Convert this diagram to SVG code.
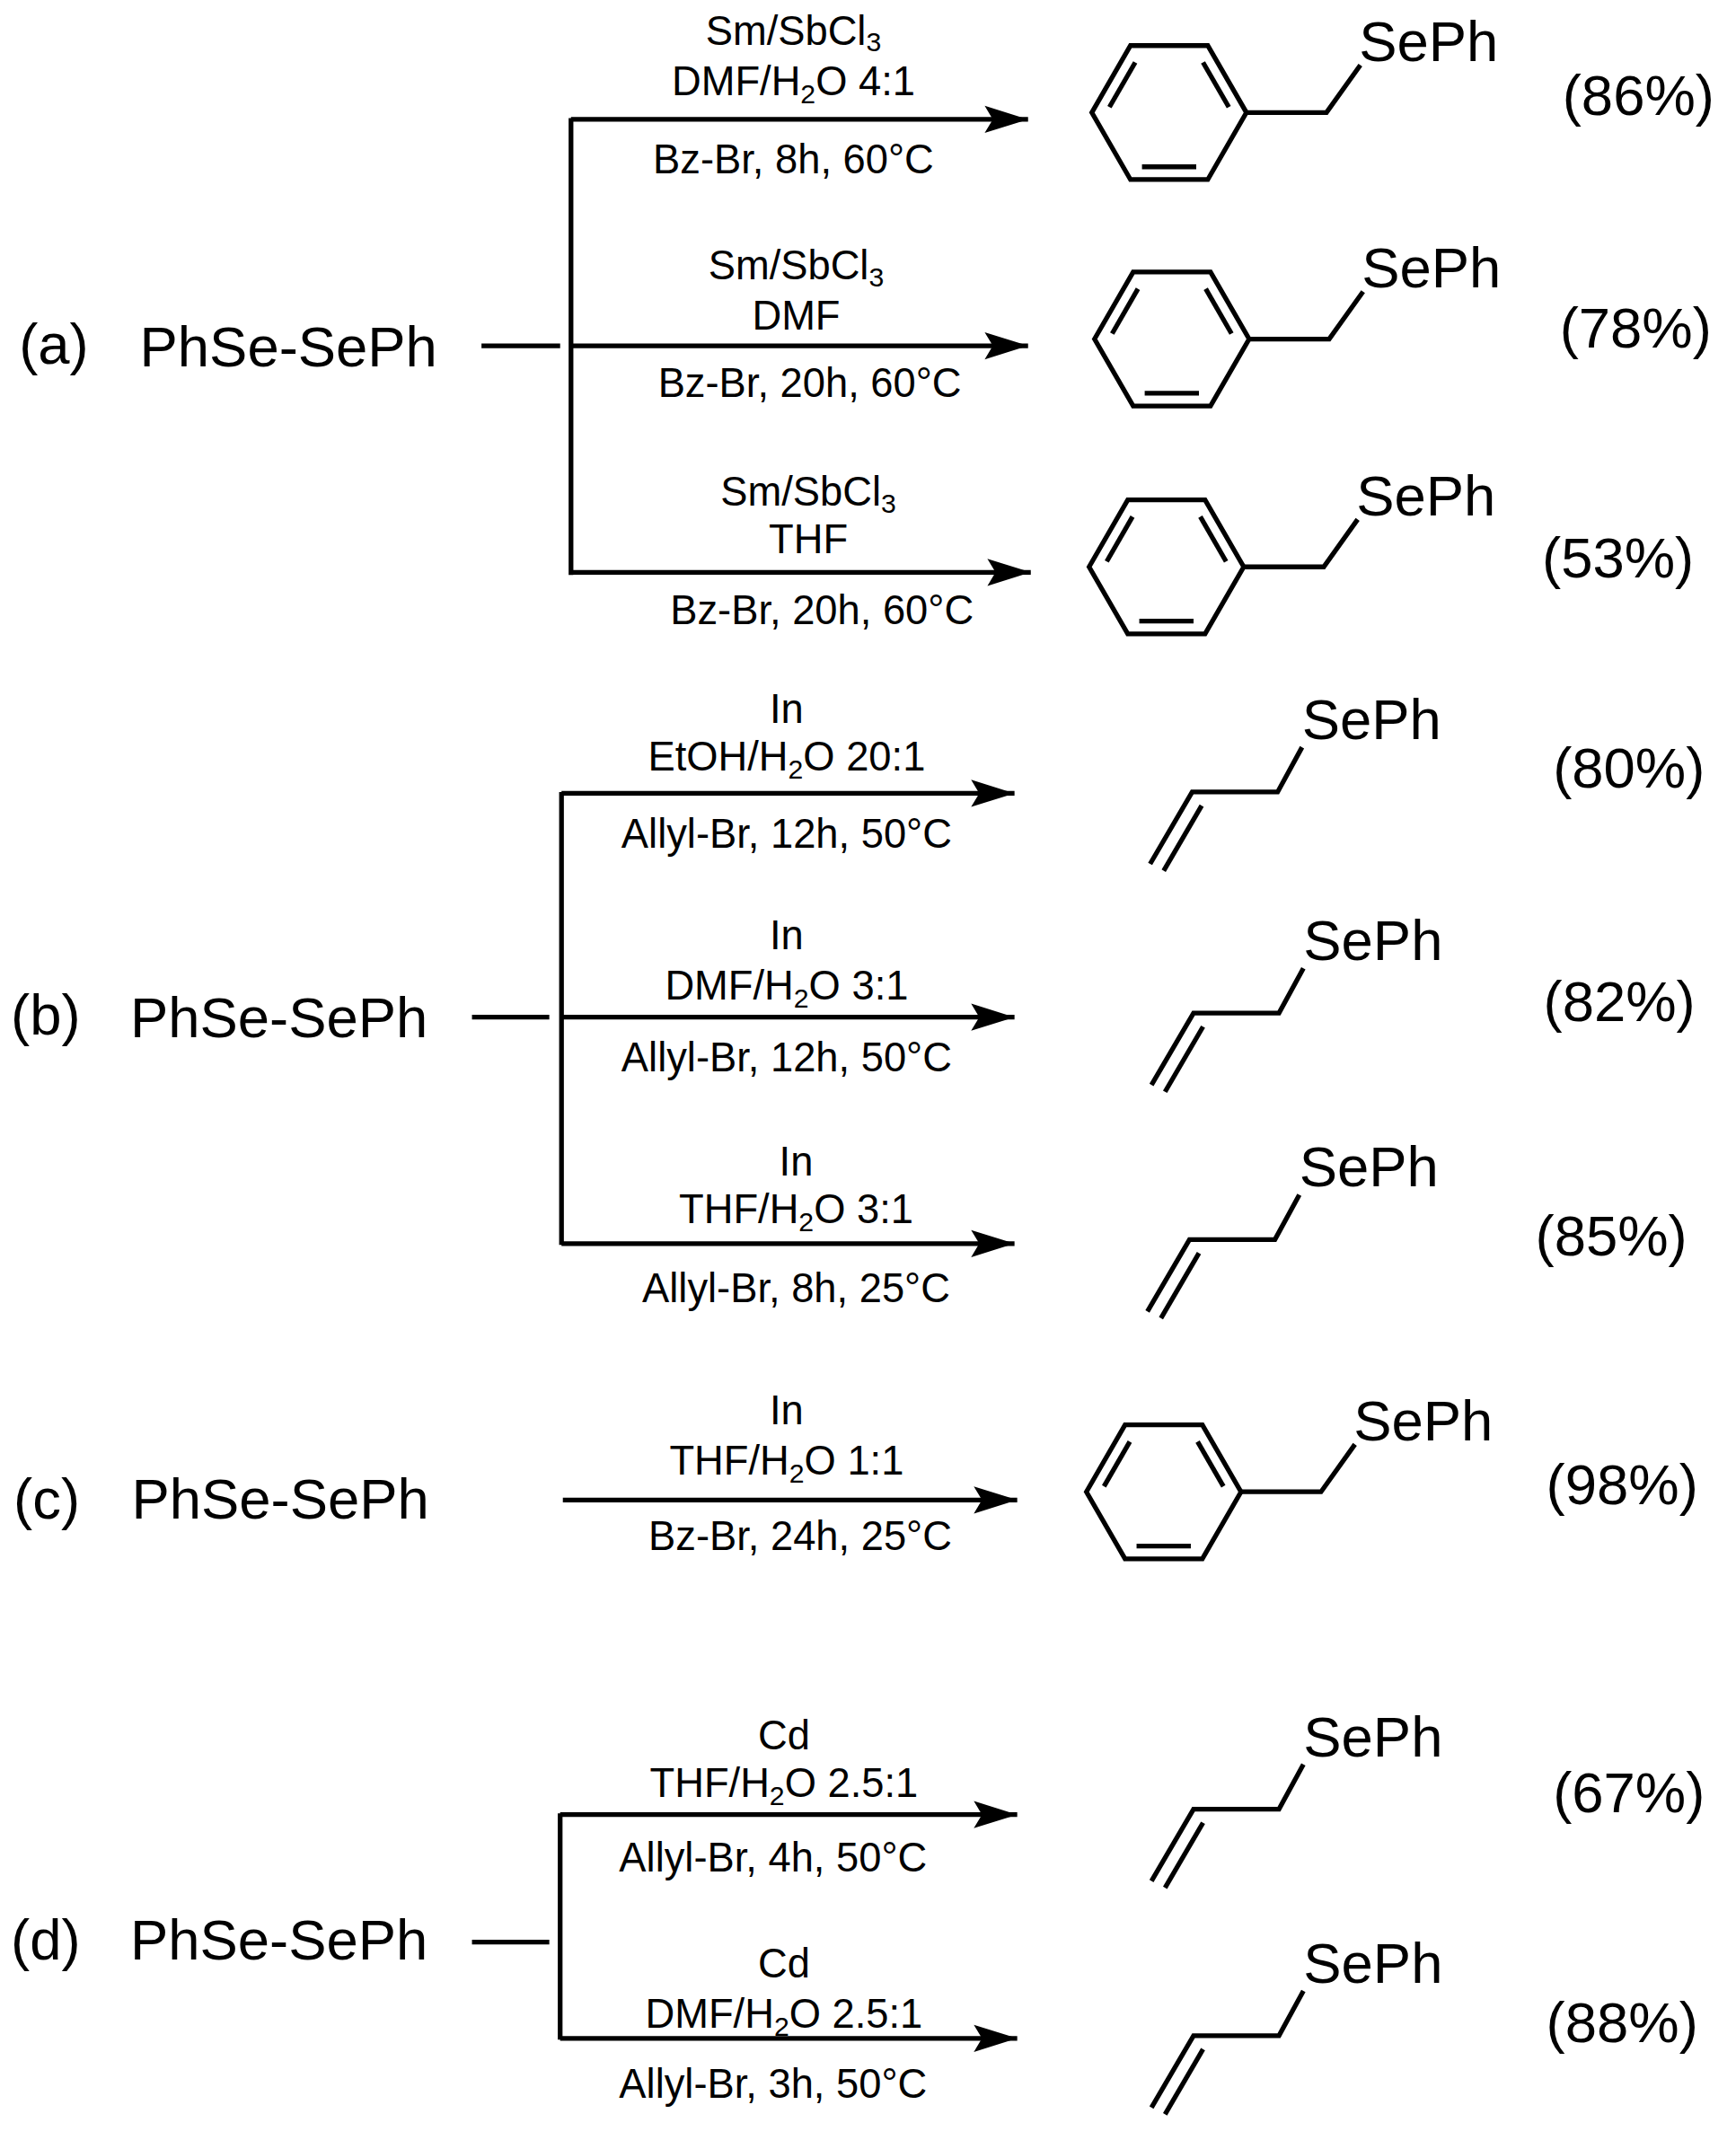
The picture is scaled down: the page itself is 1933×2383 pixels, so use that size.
<svg xmlns="http://www.w3.org/2000/svg" width="1933" height="2383" viewBox="0 0 1933 2383">
<defs>
<style>
text{font-family:"Liberation Sans",Arial,sans-serif;fill:#000}
.big{font-size:42px}
.c{font-size:30px;text-anchor:middle}
.s{font-size:20px}
.ln{stroke:#000;stroke-width:3.5;fill:none}
.arr{stroke:#000;stroke-width:3.5;fill:none;marker-end:url(#ah)}
</style>
<marker id="ah" markerUnits="userSpaceOnUse" markerWidth="40" markerHeight="26" refX="32" refY="13" orient="auto">
<path d="M0,3 L32,13 L0,23 L6,13 Z" fill="#000"/>
</marker>
<g id="bz">
<polygon class="ln" points="-57,0 -28.5,-49.4 28.5,-49.4 57,0 28.5,49.4 -28.5,49.4"/>
<line class="ln" x1="-25" y1="-37" x2="-44" y2="-4"/>
<line class="ln" x1="25" y1="-37" x2="44" y2="-4"/>
<line class="ln" x1="-20" y1="40" x2="20" y2="40"/>
<polyline class="ln" points="57,0 116,0 141,-35"/>
<text class="big" x="140" y="-38">SePh</text>
</g>
<g id="al">
<polyline class="ln" points="-31,53 0,0 63,0 81,-33"/>
<line class="ln" x1="7" y1="10" x2="-21" y2="58"/>
<text class="big" x="81" y="-39">SePh</text>
</g>
</defs>
<rect width="1933" height="2383" fill="#fff"/>
<g transform="scale(1.5102)">
<g id="connectors">
<line class="ln" x1="355" y1="255" x2="413" y2="255"/>
<line class="ln" x1="421" y1="87" x2="421" y2="424"/>
<line class="arr" x1="421" y1="88" x2="758" y2="88"/>
<line class="arr" x1="421" y1="255" x2="758" y2="255"/>
<line class="arr" x1="421" y1="422" x2="760" y2="422"/>
<line class="ln" x1="348" y1="750" x2="405" y2="750"/>
<line class="ln" x1="414" y1="584" x2="414" y2="918"/>
<line class="arr" x1="414" y1="585" x2="748" y2="585"/>
<line class="arr" x1="414" y1="750" x2="748" y2="750"/>
<line class="arr" x1="414" y1="917" x2="748" y2="917"/>
<line class="arr" x1="415" y1="1106" x2="750" y2="1106"/>
<line class="ln" x1="348" y1="1432" x2="405" y2="1432"/>
<line class="ln" x1="413" y1="1337" x2="413" y2="1504"/>
<line class="arr" x1="413" y1="1338" x2="750" y2="1338"/>
<line class="arr" x1="413" y1="1503" x2="750" y2="1503"/>
</g>
<g id="reactA">
<text class="big" x="14" y="268">(a)</text>
<text class="big" x="103" y="270">PhSe-SePh</text>
<text class="c" x="585" y="33">Sm/SbCl<tspan class="s" dy="5">3</tspan></text>
<text class="c" x="585" y="70">DMF/H<tspan class="s" dy="6">2</tspan><tspan dy="-6">O 4:1</tspan></text>
<text class="c" x="585" y="128">Bz-Br, 8h, 60°C</text>
<text class="c" x="587" y="206">Sm/SbCl<tspan class="s" dy="5">3</tspan></text>
<text class="c" x="587" y="243">DMF</text>
<text class="c" x="597" y="293">Bz-Br, 20h, 60°C</text>
<text class="c" x="596" y="373">Sm/SbCl<tspan class="s" dy="5">3</tspan></text>
<text class="c" x="596" y="408">THF</text>
<text class="c" x="606" y="460">Bz-Br, 20h, 60°C</text>
</g>
<g id="prodA1"><use href="#bz" x="862" y="83"/><text class="big" x="1152" y="85">(86%)</text></g>
<g id="prodA2"><use href="#bz" x="864" y="250"/><text class="big" x="1150" y="256">(78%)</text></g>
<g id="prodA3"><use href="#bz" x="860" y="418"/><text class="big" x="1137" y="426">(53%)</text></g>
<g id="reactB">
<text class="big" x="8" y="763">(b)</text>
<text class="big" x="96" y="765">PhSe-SePh</text>
<text class="c" x="580" y="533">In</text>
<text class="c" x="580" y="568">EtOH/H<tspan class="s" dy="6">2</tspan><tspan dy="-6">O 20:1</tspan></text>
<text class="c" x="580" y="625">Allyl-Br, 12h, 50°C</text>
<text class="c" x="580" y="700">In</text>
<text class="c" x="580" y="737">DMF/H<tspan class="s" dy="6">2</tspan><tspan dy="-6">O 3:1</tspan></text>
<text class="c" x="580" y="790">Allyl-Br, 12h, 50°C</text>
<text class="c" x="587" y="867">In</text>
<text class="c" x="587" y="902">THF/H<tspan class="s" dy="6">2</tspan><tspan dy="-6">O 3:1</tspan></text>
<text class="c" x="587" y="960">Allyl-Br, 8h, 25°C</text>
</g>
<g id="prodB1"><use href="#al" x="879" y="584"/><text class="big" x="1145" y="581">(80%)</text></g>
<g id="prodB2"><use href="#al" x="880" y="747"/><text class="big" x="1138" y="753">(82%)</text></g>
<g id="prodB3"><use href="#al" x="877" y="914"/><text class="big" x="1132" y="926">(85%)</text></g>
<g id="reactC">
<text class="big" x="10" y="1120">(c)</text>
<text class="big" x="97" y="1120">PhSe-SePh</text>
<text class="c" x="580" y="1050">In</text>
<text class="c" x="580" y="1087">THF/H<tspan class="s" dy="6">2</tspan><tspan dy="-6">O 1:1</tspan></text>
<text class="c" x="590" y="1143">Bz-Br, 24h, 25°C</text>
</g>
<g id="prodC"><use href="#bz" x="858" y="1100"/><text class="big" x="1140" y="1109">(98%)</text></g>
<g id="reactD">
<text class="big" x="8" y="1445">(d)</text>
<text class="big" x="96" y="1445">PhSe-SePh</text>
<text class="c" x="578" y="1290">Cd</text>
<text class="c" x="578" y="1325">THF/H<tspan class="s" dy="6">2</tspan><tspan dy="-6">O 2.5:1</tspan></text>
<text class="c" x="570" y="1380">Allyl-Br, 4h, 50°C</text>
<text class="c" x="578" y="1458">Cd</text>
<text class="c" x="578" y="1495">DMF/H<tspan class="s" dy="6">2</tspan><tspan dy="-6">O 2.5:1</tspan></text>
<text class="c" x="570" y="1547">Allyl-Br, 3h, 50°C</text>
</g>
<g id="prodD1"><use href="#al" x="880" y="1334"/><text class="big" x="1145" y="1336">(67%)</text></g>
<g id="prodD2"><use href="#al" x="880" y="1501"/><text class="big" x="1140" y="1506">(88%)</text></g>
</g>
</svg>
